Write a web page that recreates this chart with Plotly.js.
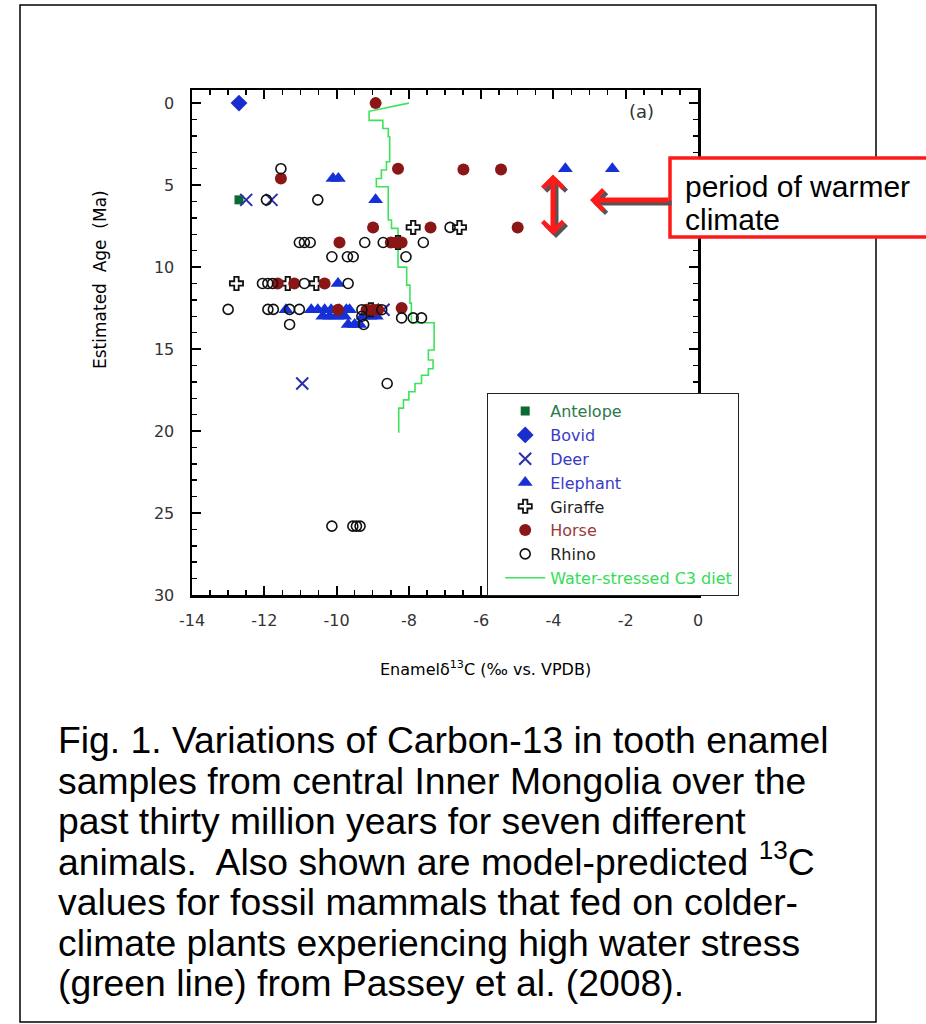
<!DOCTYPE html>
<html>
<head>
<meta charset="utf-8">
<script src="https://cdn.plot.ly/plotly-3.0.1.min.js"></script>
<style>
  html, body { margin: 0; padding: 0; background: #fff; }
  #chart { width: 926px; height: 1024px; }
</style>
</head>
<body>
<div id="chart"></div>
<script>
// ---- data ----
const xTickVals = [-14, -12, -10, -8, -6, -4, -2, 0];
const xTickText = ['-14', '-12', '-10', '-8', '-6', '-4', '-2', '0'];
const yTickVals = [0, 5, 10, 15, 20, 25, 30];
const yTickText = ['0', '5', '10', '15', '20', '25', '30'];

const antelopeX = [-12.7];
const antelopeY = [5.9];

const bovidX = [-12.7];
const bovidY = [0];

const deerX = [-12.5, -11.8, -10.95, -8.7];
const deerY = [5.9, 5.9, 17.1, 12.6];

const elephantX = [-10.1, -9.95, -8.92, -3.67, -2.37, -9.96, -11.4, -10.7, -10.52, -10.33, -10.15, -9.92, -9.73, -9.64,
                   -10.38, -10.19, -10.0, -9.78, -9.27, -9.08, -8.9, -9.68, -9.5, -9.36];
const elephantY = [4.6, 4.6, 5.9, 4.0, 4.0, 11.0, 12.6, 12.6, 12.6, 12.6, 12.6, 12.6, 12.6, 12.6,
                   13.0, 13.0, 13.0, 13.0, 13.0, 13.0, 13.0, 13.5, 13.5, 13.5];

const giraffeX = [-12.77, -11.35, -10.56, -7.88, -6.6, -8.3, -9.05];
const giraffeY = [11.0, 11.0, 11.0, 7.58, 7.58, 8.5, 12.6];

const horseX = [-8.92, -11.54, -8.3, -6.49, -5.45, -8.99, -7.4, -4.99, -9.92, -8.5, -8.35, -8.2,
                -11.63, -11.17, -10.33, -9.96, -9.17, -8.99, -8.85, -8.2];
const horseY = [0, 4.6, 4.0, 4.05, 4.05, 7.58, 7.58, 7.58, 8.5, 8.5, 8.5, 8.5,
                11.0, 11.0, 11.0, 12.6, 12.6, 12.6, 12.6, 12.5];

const rhinoX = [-11.54, -11.94, -10.52, -11.03, -10.89, -10.73, -9.22, -8.71, -7.6, -10.13, -9.7, -9.54, -8.08, -6.86,
                -12.05, -11.9, -11.77, -10.89, -9.68, -13.0, -11.9, -11.75, -11.3, -11.03, -9.3, -8.75,
                -9.3, -8.2, -7.88, -7.65, -11.3, -9.25, -8.6, -10.13, -9.55, -9.45, -9.35];
const rhinoY = [4.0, 5.9, 5.9, 8.5, 8.5, 8.5, 8.5, 8.5, 8.5, 9.37, 9.37, 9.37, 9.37, 7.58,
                11.0, 11.0, 11.0, 11.0, 11.0, 12.58, 12.58, 12.58, 12.58, 12.58, 12.6, 12.6,
                13.0, 13.1, 13.1, 13.1, 13.5, 13.5, 17.1, 25.8, 25.8, 25.8, 25.8];

// Water-stressed C3 diet model: age (Ma) where the value steps, and the value from that age on
const c3Age   = [0, 0.5, 1.05, 1.55, 2.05, 3.58, 4.08, 4.6, 5.1, 7.13, 7.64, 10.0, 11.1, 12.2, 13.4,
                 15.06, 15.67, 16.2, 16.6, 17.1, 17.6, 18.1, 18.6, 20.1];
const c3Value = [-8.0, -9.1, -8.72, -8.57, -8.53, -8.62, -8.76, -8.9, -8.57, -8.48, -8.3, -8.06, -7.97, -7.93, -7.3,
                 -7.46, -7.33, -7.46, -7.65, -7.83, -8.0, -8.15, -8.28, -8.28];

const captionLines = [
  'Fig. 1. Variations of Carbon-13 in tooth enamel',
  'samples from central Inner Mongolia over the',
  'past thirty million years for seven different',
  'animals.  Also shown are model-predicted <sup>13</sup>C',
  'values for fossil mammals that fed on colder-',
  'climate plants experiencing high water stress',
  '(green line) from Passey et al. (2008).'
];

// ---- build the stepped model line (first segment is a slope) ----
const c3X = [c3Value[0], c3Value[1]];
const c3Y = [c3Age[0], c3Age[1]];
for (let i = 2; i < c3Age.length; i++) {
  c3X.push(c3Value[i - 1]); c3Y.push(c3Age[i]);
  c3X.push(c3Value[i]);     c3Y.push(c3Age[i]);
}

// ---- geometry helpers (plot area in pixels) ----
const W = 926, H = 1024;
const PL = 192, PR = 698, PT = 90, PB = 595;
const px = v => (v - PL) / (PR - PL);
const py = v => (PB - v) / (PB - PT);

const LF = 'DejaVu Sans, Verdana, sans-serif';
const AF = 'Liberation Sans, Arial, sans-serif';

function leg(txt, col) { return '<span style="color:' + col + '">' + txt + '</span>'; }

const traces = [
  {x: c3X, y: c3Y, type: 'scatter', mode: 'lines', name: leg('Water-stressed C3 diet', '#33dd55'),
   line: {color: '#3ee35c', width: 1.6}, legendrank: 8},
  {x: antelopeX, y: antelopeY, type: 'scatter', mode: 'markers', name: leg('Antelope', '#2a7a4a'),
   marker: {symbol: 'square', size: 9, color: '#0b6a32'}, legendrank: 1},
  {x: bovidX, y: bovidY, type: 'scatter', mode: 'markers', name: leg('Bovid', '#3a3ac8'),
   marker: {symbol: 'diamond', size: 13, color: '#1a2ed0'}, legendrank: 2},
  {x: deerX, y: deerY, type: 'scatter', mode: 'markers', name: leg('Deer', '#3a3ac8'),
   marker: {symbol: 'x-thin-open', size: 12, color: '#2a2ea8', line: {width: 2, color: '#2a2ea8'}}, legendrank: 3},
  {x: elephantX, y: elephantY, type: 'scatter', mode: 'markers', name: leg('Elephant', '#3a3ac8'),
   marker: {symbol: 'triangle-up', size: 13, color: '#1530d6'}, legendrank: 4},
  {x: giraffeX, y: giraffeY, type: 'scatter', mode: 'markers', name: leg('Giraffe', '#222'),
   marker: {symbol: 'cross-open', size: 11, color: '#111', line: {width: 1.8, color: '#111'}}, legendrank: 5},
  {x: horseX, y: horseY, type: 'scatter', mode: 'markers', name: leg('Horse', '#9a3a3a'),
   marker: {symbol: 'circle', size: 12, color: '#8b1616'}, legendrank: 6},
  {x: rhinoX, y: rhinoY, type: 'scatter', mode: 'markers', name: leg('Rhino', '#222'),
   marker: {symbol: 'circle-open', size: 10, color: '#111', line: {width: 1.6, color: '#111'}}, legendrank: 7}
];

const annotations = [
  {xref: 'paper', yref: 'paper', x: px(100), y: py(280), text: 'Estimated\u00a0 Age\u00a0 (Ma)', textangle: -90,
   showarrow: false, font: {family: LF, size: 17, color: '#000'}, xanchor: 'center', yanchor: 'middle'},
  {xref: 'paper', yref: 'paper', x: px(485), y: py(668), text: 'Enamel\u03b4<sup>13</sup>C (\u2030 vs. VPDB)',
   showarrow: false, font: {family: LF, size: 16, color: '#000'}, xanchor: 'center', yanchor: 'middle'},
  {xref: 'paper', yref: 'paper', x: px(641), y: py(111), text: '(a)', showarrow: false,
   font: {family: LF, size: 18, color: '#333'}, xanchor: 'center', yanchor: 'middle'},
  // arrow shadows
  {xref: 'paper', yref: 'paper', x: px(593), y: py(203), ax: 80, ay: 0, text: '', showarrow: true,
   arrowhead: 4, arrowsize: 0.8, arrowwidth: 5, arrowcolor: '#555', standoff: 0},
  {xref: 'paper', yref: 'paper', x: px(556), y: py(238), ax: 0, ay: -62, text: '', showarrow: true,
   arrowhead: 4, startarrowhead: 4, arrowside: 'end+start', arrowsize: 0.8, startarrowsize: 0.8,
   arrowwidth: 5, arrowcolor: '#555', standoff: 0, startstandoff: 0},
  // red arrows
  {xref: 'paper', yref: 'paper', x: px(590), y: py(200), ax: 80, ay: 0, text: '', showarrow: true,
   arrowhead: 4, arrowsize: 0.8, arrowwidth: 5, arrowcolor: '#ff1a1a', standoff: 0},
  {xref: 'paper', yref: 'paper', x: px(553), y: py(235), ax: 0, ay: -62, text: '', showarrow: true,
   arrowhead: 4, startarrowhead: 4, arrowside: 'end+start', arrowsize: 0.8, startarrowsize: 0.8,
   arrowwidth: 5, arrowcolor: '#ff1a1a', standoff: 0, startstandoff: 0},
  // callout text
  {xref: 'paper', yref: 'paper', x: px(683), y: py(187), text: 'period of warmer', showarrow: false,
   font: {family: AF, size: 30, color: '#000'}, xanchor: 'left', yanchor: 'middle'},
  {xref: 'paper', yref: 'paper', x: px(683), y: py(219), text: 'climate', showarrow: false,
   font: {family: AF, size: 30, color: '#000'}, xanchor: 'left', yanchor: 'middle'}
];

// caption lines: anchored on their lower edge so the superscript does not shift a line
const capTop = 742, capStep = 40.5, capFont = 37.3;
captionLines.forEach((t, i) => {
  annotations.push({xref: 'paper', yref: 'paper', x: px(57), y: py(capTop + i * capStep + 20), text: t,
    showarrow: false, font: {family: AF, size: capFont, color: '#000'}, xanchor: 'left', yanchor: 'bottom',
    borderpad: 0});
});

const shapes = [
  {type: 'rect', xref: 'paper', yref: 'paper', x0: px(20), x1: px(876), y0: py(1022), y1: py(5),
   line: {color: '#000', width: 1.5}, fillcolor: 'rgba(0,0,0,0)', layer: 'below'},
  {type: 'rect', xref: 'paper', yref: 'paper', x0: px(670), x1: px(945), y0: py(237), y1: py(158),
   line: {color: '#ff1a1a', width: 3.5}, fillcolor: '#fff', layer: 'above'}
];

const layout = {
  width: W, height: H,
  margin: {l: PL, r: W - PR, t: PT, b: H - PB, pad: 0},
  paper_bgcolor: '#fff', plot_bgcolor: '#fff',
  showlegend: true,
  font: {family: LF, color: '#222'},
  xaxis: {
    range: [-14, 0], tickmode: 'array', tickvals: xTickVals, ticktext: xTickText,
    ticks: 'inside', ticklen: 9, tickwidth: 2, tickcolor: '#000',
    minor: {dtick: 0.5, tick0: 0, ticks: 'inside', ticklen: 5, tickwidth: 1.5, tickcolor: '#000', showgrid: false},
    showline: true, linecolor: '#000', linewidth: 2.5, mirror: 'allticks',
    showgrid: false, zeroline: false, ticklabelstandoff: 9,
    tickfont: {family: LF, size: 16, color: '#333'}
  },
  yaxis: {
    range: [30, -0.8], tickmode: 'array', tickvals: yTickVals, ticktext: yTickText,
    ticks: 'inside', ticklen: 9, tickwidth: 2, tickcolor: '#000',
    minor: {dtick: 1, tick0: 0, ticks: 'inside', ticklen: 5, tickwidth: 1.5, tickcolor: '#000', showgrid: false},
    showline: true, linecolor: '#000', linewidth: 2.5, mirror: 'allticks',
    showgrid: false, zeroline: false, ticklabelstandoff: 12,
    tickfont: {family: LF, size: 16, color: '#333'}
  },
  legend: {
    x: px(487), y: py(393), xanchor: 'left', yanchor: 'top',
    bgcolor: '#fff', bordercolor: '#222', borderwidth: 1.2,
    font: {family: LF, size: 16, color: '#222'},
    traceorder: 'normal', indentation: 12, itemwidth: 40
  },
  annotations: annotations,
  shapes: shapes
};

Plotly.newPlot('chart', traces, layout, {displayModeBar: false, staticPlot: true});
</script>
</body>
</html>
